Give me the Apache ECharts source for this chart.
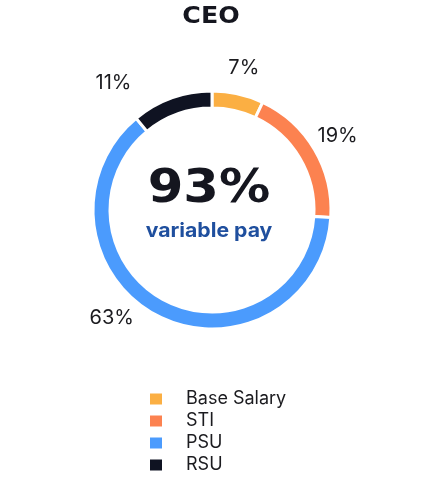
<!DOCTYPE html>
<html>
<head>
<meta charset="utf-8">
<script src="https://cdn.jsdelivr.net/npm/echarts@6/dist/echarts.min.js"></script>
<style>
  html, body { margin: 0; padding: 0; background: #fff; }
  #myChart { width: 422px; height: 498px; }
</style>
</head>
<body>
<div id="myChart"></div>
<script>
// 数据
const categories = ['Base Salary', 'STI', 'PSU', 'RSU']
const shares = [7, 19, 63, 11]
const colors = ['#FBAF43', '#FC8250', '#4B9BFD', '#0F1322']
const centerValue = '93%'
const centerNote = 'variable pay'

const pieData = categories.map((name, i) => ({value: shares[i], name: name}))

// 标签微调（63% 和 11%）
const labelShift = {
  2: {dx: -34, dy: -22},
  3: {dx: -49, dy: 10}
}

let option = {
  animation: false,
  color: colors,
  legend: {
    orient: 'vertical',
    left: 143,
    top: 385,
    itemWidth: 14,
    itemHeight: 13,
    itemGap: 4,
    icon: 'rect',
    data: categories,
    textStyle: {
      fontFamily: 'Inter',
      fontSize: 18,
      color: '#1b1b1f',
      padding: [0, 0, 0, 18]
    }
  },
  graphic: [
    {
      type: 'text',
      x: 211, y: 17, scaleX: 1.1,
      style: {
        x: 0, y: 0, text: 'CEO', align: 'center', verticalAlign: 'middle',
        font: 'bold 23px "DejaVu Sans"', fill: '#15161f'
      }
    },
    {
      type: 'text',
      x: 209, y: 190, scaleX: 1.09,
      style: {
        x: 0, y: 0, text: centerValue, align: 'center', verticalAlign: 'middle',
        font: 'bold 47px "DejaVu Sans"', fill: '#15161f'
      }
    },
    {
      type: 'text',
      x: 209, y: 231, scaleX: 1.06,
      style: {
        x: 0, y: 0, text: centerNote, align: 'center', verticalAlign: 'middle',
        font: 'bold 20px Inter', fill: '#1F4F9E'
      }
    }
  ],
  series: [
    {
      name: 'CEO',
      type: 'pie',
      center: [212, 210],
      radius: [102, 119],
      startAngle: 90,
      silent: true,
      itemStyle: {
        borderColor: '#fff',
        borderWidth: 3
      },
      label: {show: false},
      labelLine: {show: false},
      data: pieData
    },
    {
      name: 'labels',
      type: 'pie',
      center: [212, 210],
      radius: [134, 152],
      startAngle: 90,
      silent: true,
      itemStyle: {color: 'transparent'},
      label: {
        show: true,
        position: 'inside',
        formatter: '{c}%',
        fontFamily: 'Inter',
        fontSize: 20,
        color: '#1b1b1f'
      },
      labelLayout: function (params) {
        return labelShift[params.dataIndex] || {}
      },
      data: pieData
    }
  ]
}

const myChart = echarts.init(document.getElementById('myChart'))
myChart.setOption(option)
</script>
</body>
</html>
